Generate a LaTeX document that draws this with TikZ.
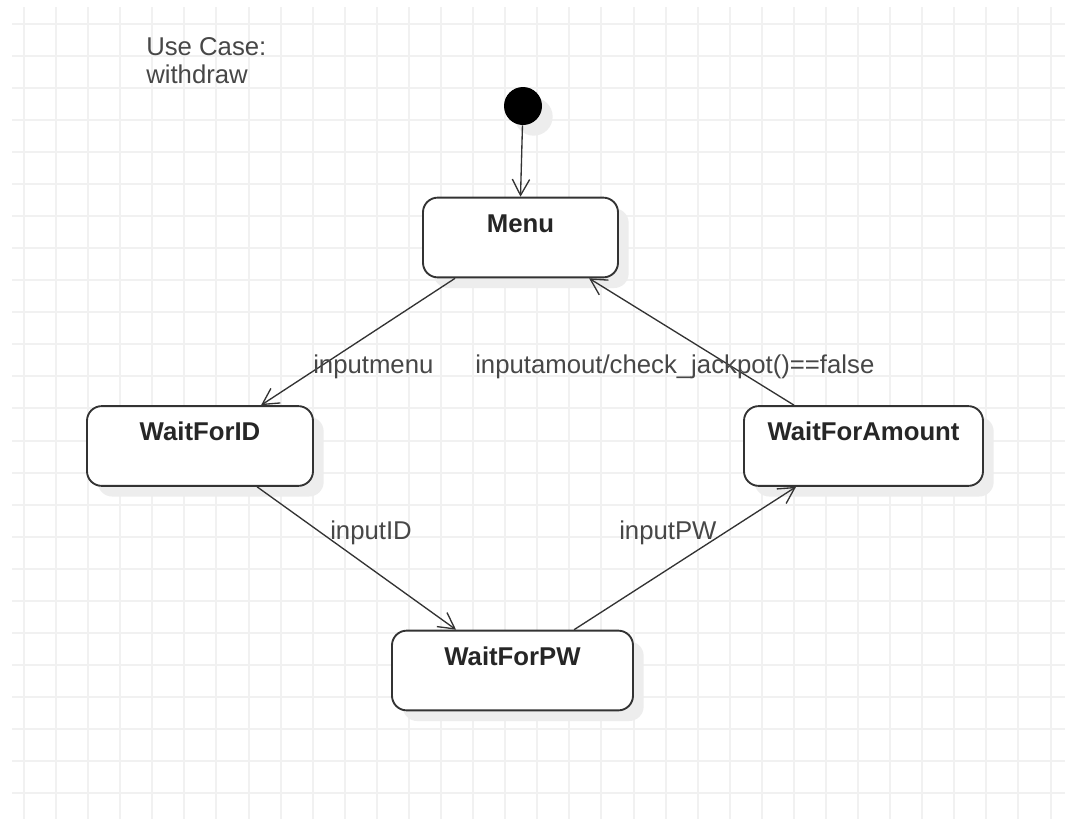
\documentclass[tikz,border=0pt]{standalone}
\usepackage{fontspec}
\setmainfont{Liberation Sans}
\usetikzlibrary{arrows.meta,shadows}
\definecolor{gridc}{HTML}{F1F1F1}
\definecolor{ink}{HTML}{333333}

\begin{document}
\begin{tikzpicture}[x=0.75pt, y=-0.75pt,
    state/.style={draw=ink, line width=1.4pt, rounded corners=11pt, fill=white,
      drop shadow={shadow xshift=8pt, shadow yshift=-8pt, fill=black!7, opacity=1},
      font=\fontsize{19.3}{22}\selectfont\bfseries, text=black!85,
      inner ysep=12pt, text height=13.8pt, text depth=22pt, minimum height=59.5pt},
    trans/.style={draw=ink, line width=1pt, -{Straight Barb[length=12pt, width=13pt, line width=1pt]}},
    lbl/.style={font=\fontsize{19.3}{21}\selectfont, text=black!72, inner sep=0pt}]
    \useasboundingbox[fill=white] (0,0) rectangle (1065,819);
    \foreach \k in {0,...,32}
        \draw[gridc, line width=1.5pt] ({24+32.08*\k},7) -- ({24+32.08*\k},819);
    \foreach \k in {0,...,24}
        \draw[gridc, line width=1.5pt] (12,{23.5+32.08*\k}) -- (1065,{23.5+32.08*\k});

    \node[lbl, anchor=north west, align=left] (usecase) at (146,37) {Use Case:\\withdraw};

    \node[circle, fill=black, minimum size=28.5pt, inner sep=0pt,
        drop shadow={shadow xshift=8pt, shadow yshift=-8pt, fill=black!7, opacity=1}] (init) at (523,106) {};
    \node[state, minimum width=146.25pt] (menu) at (520.5,237.5) {Menu};
    \node[state, minimum width=169.5pt] (waitid) at (200,446) {WaitForID};
    \node[state, minimum width=179.25pt] (waitamt) at (863.5,446) {WaitForAmount};
    \node[state, minimum width=180.75pt] (waitpw) at (512.5,670.5) {WaitForPW};

    \draw[trans] (init) -- (menu.north);
    \draw[trans] ([xshift=24.75pt]menu.south west) -- ([xshift=131.25pt]waitid.north west);
    \draw[trans] ([xshift=128.25pt]waitid.south west) -- ([xshift=48.75pt]waitpw.north west);
    \draw[trans] ([xshift=137.25pt]waitpw.north west) -- ([xshift=39.75pt]waitamt.south west);
    \draw[trans] ([xshift=38.25pt]waitamt.north west) -- ([xshift=125.25pt]menu.south west);

    \node[lbl, anchor=base west] (lmenu) at (313,373) {inputmenu};
    \node[lbl, anchor=base west] (lamt) at (475,373) {inputamout/check\_jackpot()==false};
    \node[lbl, anchor=base west] (lid) at (330,539) {inputID};
    \node[lbl, anchor=base west] (lpw) at (619,539) {inputPW};
\end{tikzpicture}
\end{document}
